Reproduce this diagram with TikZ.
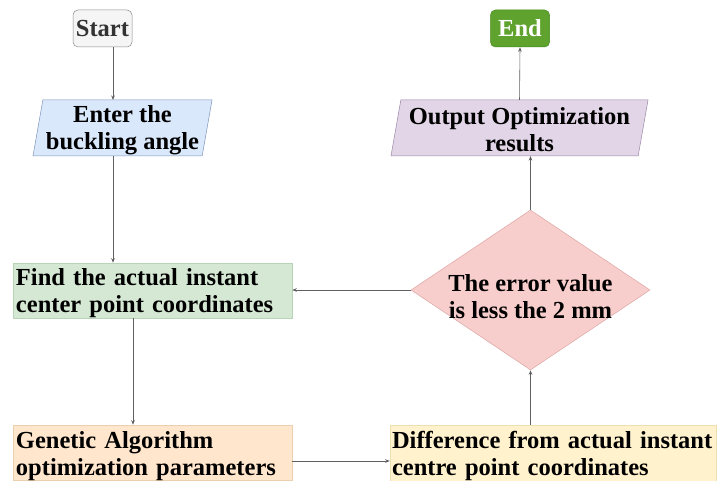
\documentclass[tikz,border=0pt]{standalone}
\usepackage{fontspec}
\setmainfont{Liberation Serif}
\usetikzlibrary{shapes.geometric,arrows.meta}
\definecolor{startfill}{HTML}{F5F5F5}
\definecolor{startdraw}{HTML}{8A8A8A}
\definecolor{endfill}{HTML}{5FA22E}
\definecolor{enddraw}{HTML}{3F8A1A}
\definecolor{enterfill}{HTML}{DAE8FC}
\definecolor{enterdraw}{HTML}{7C94BA}
\definecolor{outfill}{HTML}{E1D5E7}
\definecolor{outdraw}{HTML}{9A86A6}
\definecolor{findfill}{HTML}{D5E8D4}
\definecolor{finddraw}{HTML}{B9D3B6}
\definecolor{genfill}{HTML}{FFE6CC}
\definecolor{gendraw}{HTML}{EBCFAE}
\definecolor{difffill}{HTML}{FFF2CC}
\definecolor{diffdraw}{HTML}{EEDFB0}
\definecolor{diafill}{HTML}{F8CECC}
\definecolor{diadraw}{HTML}{DDA6A4}
\definecolor{arrcol}{HTML}{606060}
\begin{document}
\begin{tikzpicture}[x=1pt,y=-1pt,
  txt/.style={font=\fontsize{24.5}{27}\selectfont\bfseries, text=black},
  arr/.style={draw=arrcol, line width=0.6pt, -{Stealth[length=4.5pt,width=3.5pt]}},
  term/.style={txt, rectangle, rounded corners=5pt, minimum width=59pt, minimum height=37pt, inner sep=0pt, line width=0.5pt},
  para/.style={trapezium, trapezium left angle=80, trapezium right angle=100, inner sep=0pt, outer sep=0pt, line width=0.5pt},
  procbox/.style={txt, rectangle, minimum height=55pt, inner ysep=0pt, align=left, line width=0.5pt, text depth=26pt},
  decision/.style={diamond, minimum width=239pt, minimum height=160pt, inner sep=0pt, line width=0.5pt},
  lbltxt/.style={txt, align=center, inner sep=0pt}
]
\useasboundingbox (0,0) rectangle (718,481);
\node[term, fill=startfill, draw=startdraw, text=black!80] (start) at (102.5,28.5) {Start};
\node[term, fill=endfill, draw=enddraw, text=white] (endn) at (520,28.5) {End};
\node[para, fill=enterfill, draw=enterdraw] (enter) at (122.5,128) {\phantom{\rule{159.3pt}{56pt}}};
\node[lbltxt] (entertext) at (122.5,130.5) {Enter the\\buckling angle};
\node[para, fill=outfill, draw=outdraw] (output) at (519.5,128) {\phantom{\rule{237.3pt}{56pt}}};
\node[lbltxt] (outputtext) at (519.5,130) {Output Optimization\\results};
\node[procbox, fill=findfill, draw=finddraw, minimum width=279pt, inner xsep=3pt, text width=273pt] (find) at (152.5,290.5) {Find the actual instant\\center point coordinates};
\node[procbox, fill=genfill, draw=gendraw, minimum width=279pt, inner xsep=3pt, text width=273pt] (genetic) at (152.5,452.5) {Genetic Algorithm\\optimization parameters};
\node[procbox, fill=difffill, draw=diffdraw, minimum width=326pt, minimum height=56pt, inner xsep=2pt, text width=322pt] (diff) at (553,453) {Difference from actual instant\\centre point coordinates};
\node[decision, fill=diafill, draw=diadraw] (dia) at (530.5,290) {};
\node[lbltxt] (diatext) at (530.5,297) {The error value\\is less the 2 mm};
\coordinate (xa) at (113,0);
\coordinate (xb) at (133,0);
\coordinate (ya) at (0,461);
\draw[arr] (start.south -| xa) -- (enter.north -| xa);
\draw[arr] (enter.south -| xa) -- (find.north -| xa);
\draw[arr] (find.south -| xb) -- (genetic.north -| xb);
\draw[arr] (genetic.east |- ya) -- (diff.west |- ya);
\draw[arr] (diff.north -| dia.south) -- (dia.south);
\draw[arr] (dia.north) -- (output.south -| dia.north);
\draw[arr] (output.north) -- (endn.south);
\draw[arr] (dia.west) -- (find.east |- dia.west);
\end{tikzpicture}
\end{document}
